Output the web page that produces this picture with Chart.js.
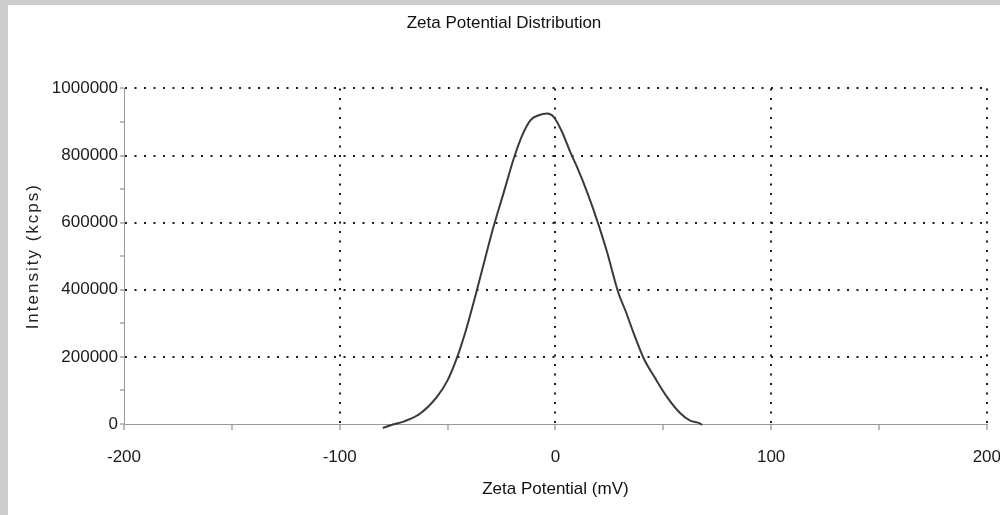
<!DOCTYPE html>
<html>
<head>
<meta charset="utf-8">
<title>Zeta Potential Distribution</title>
<script src="https://cdn.jsdelivr.net/npm/chart.js@4.4.0/dist/chart.umd.min.js"></script>
<style>
  html, body { margin: 0; padding: 0; }
  body { width: 1000px; height: 515px; overflow: hidden; background: #cdcdcd; position: relative; }
  #wrap { position: absolute; left: 8px; top: 5px; width: 1010px; height: 510px; background: #fff; }
</style>
</head>
<body>
<div id="wrap"><canvas id="zeta-chart" width="1010" height="510"></canvas></div>
<script>
// measured distribution: zeta potential (mV) vs intensity (kcps)
const zetaMv = [-80, -76, -70, -62.5, -55, -50, -45.5, -41, -36.6, -31.6, -28.5, -23.9, -19.3, -15.4,
  -11.6, -7.7, -3.9, -0.8, 3.1, 6.9, 10, 14.7, 20.1, 23.9, 29.3, 32.4, 36.3, 40.9, 46.3, 51.7, 57.9,
  62.5, 67, 68];
const intensity = [-12000, -3000, 8000, 32000, 80000, 130000, 200000, 290000, 394000, 518000, 592000,
  691000, 791000, 860000, 905000, 920000, 925000, 915000, 870000, 810000, 766000, 691000, 592000,
  513000, 389000, 339000, 270000, 196000, 136000, 81000, 32000, 10000, 2000, -3000];

const xMajor = [-100, 0, 100, 200];          // dotted gridlines
const xLabels = [-200, -100, 0, 100, 200];
const yLabels = [0, 200000, 400000, 600000, 800000, 1000000];

const dotColor = "#1c1c1c";
const tickFont = { family: "'Liberation Sans', Arial, sans-serif", size: 17 };
const headFont = { family: "'Liberation Sans', Arial, sans-serif", size: 17, weight: "normal" };

// the y title is printed with a little letter spacing
const spacedTitle = {
  id: "spacedTitle",
  beforeDraw(chart) {
    const y = chart.scales.y;
    if (!y || y._spaced) return;
    const orig = y.drawTitle.bind(y);
    y.drawTitle = function () {
      this.ctx.save();
      this.ctx.letterSpacing = "2px";
      orig();
      this.ctx.restore();
    };
    y._spaced = true;
  }
};

const points = zetaMv.map((v, i) => ({ x: v, y: intensity[i] }));

new Chart(document.getElementById("zeta-chart").getContext("2d"), {
  type: "line",
  data: {
    datasets: [{
      data: points,
      borderColor: "#3a3a3a",
      borderWidth: 2,
      pointRadius: 0,
      fill: false,
      cubicInterpolationMode: "monotone",
      clip: 6
    }]
  },
  options: {
    responsive: false,
    devicePixelRatio: 1,
    animation: false,
    layout: { padding: { left: 12, right: 30, top: 0, bottom: 0 } },
    plugins: {
      legend: { display: false },
      tooltip: { enabled: false },
      title: {
        display: true,
        text: "Zeta Potential Distribution",
        color: "#111",
        font: headFont,
        padding: { top: 8, bottom: 55 }
      }
    },
    scales: {
      x: {
        type: "linear",
        min: -200,
        max: 200,
        afterFit: (scale) => { scale.height = 91; },
        ticks: {
          stepSize: 50,
          autoSkip: false,
          maxRotation: 0,
          color: "#1a1a1a",
          font: tickFont,
          padding: 17,
          callback: (v) => xLabels.includes(v) ? String(v) : ""
        },
        grid: {
          color: (ctx) => ctx.tick && xMajor.includes(ctx.tick.value) ? dotColor : "rgba(0,0,0,0)",
          lineWidth: 2,
          tickColor: "#777",
          tickLength: 6,
          tickWidth: 1
        },
        border: { display: true, color: "#999", width: 1, dash: [2, 7.5] },
        title: {
          display: true,
          text: "Zeta Potential (mV)",
          color: "#111",
          font: headFont,
          padding: { top: 0, bottom: 15 }
        }
      },
      y: {
        min: 0,
        max: 1000000,
        afterFit: (scale) => { scale.width = 104; },
        ticks: {
          stepSize: 100000,
          autoSkip: false,
          color: "#1a1a1a",
          font: tickFont,
          padding: 2,
          callback: (v) => yLabels.includes(v) ? String(v) : ""
        },
        grid: {
          color: (ctx) => ctx.tick && ctx.tick.value !== 0 && yLabels.includes(ctx.tick.value) ? dotColor : "rgba(0,0,0,0)",
          lineWidth: 2,
          tickColor: "#777",
          tickLength: 4,
          tickWidth: 1
        },
        border: { display: true, color: "#999", width: 1, dash: [2, 7.5] },
        title: {
          display: true,
          text: "Intensity (kcps)",
          color: "#222",
          font: { family: "'Liberation Sans', Arial, sans-serif", size: 17 },
          padding: { top: 3, bottom: 0 }
        }
      }
    }
  },
  plugins: [spacedTitle]
});
</script>
</body>
</html>
